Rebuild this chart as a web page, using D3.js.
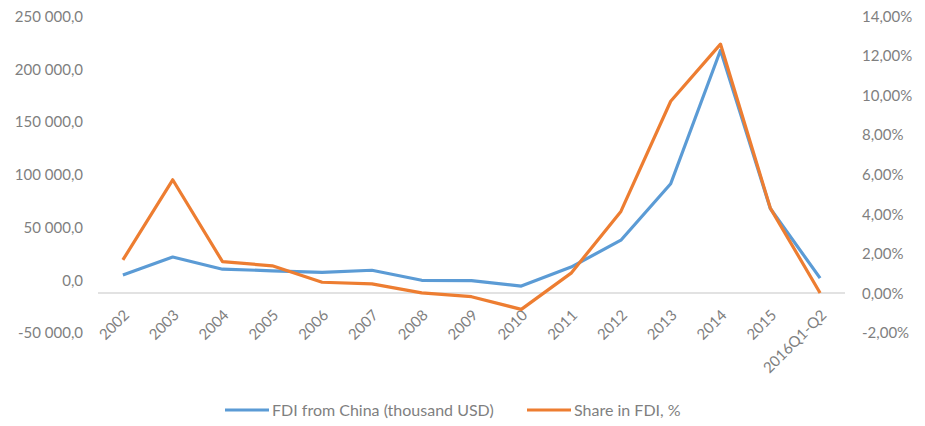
<!DOCTYPE html>
<html>
<head>
<meta charset="utf-8">
<script src="https://cdn.jsdelivr.net/npm/d3@7"></script>
<style>
  html, body { margin: 0; padding: 0; background: #fff; }
  svg { display: block; }
  text { font-family: Lato, "Open Sans", sans-serif; fill: #7f7f7f; }
</style>
</head>
<body>
<svg id="chart" width="925" height="426"></svg>
<script>
const categories = ["2002","2003","2004","2005","2006","2007","2008","2009","2010","2011","2012","2013","2014","2015","2016Q1-Q2"];
const fdiFromChina = [4500, 21500, 10000, 8500, 7000, 9000, -500, -800, -6000, 12000, 37500, 91000, 217500, 67500, 1500];
const shareInFdi = [1.67, 5.72, 1.58, 1.37, 0.54, 0.46, 0.0, -0.19, -0.83, 1.0, 4.12, 9.69, 12.58, 4.29, 0.0];
const leftTicks = [-50000, 0, 50000, 100000, 150000, 200000, 250000];
const rightTicks = [-2, 0, 2, 4, 6, 8, 10, 12, 14];
const seriesNames = ["FDI from China (thousand USD)", "Share in FDI, %"];

const colors = ["#5b9bd5", "#ed7d31"];
const svg = d3.select("#chart");
const plotTop = 16, plotBottom = 332.5, plotLeft = 98, plotRight = 845;

const x = d3.scalePoint().domain(categories).range([plotLeft, plotRight]).padding(0.5);
const yL = d3.scaleLinear().domain([-50000, 250000]).range([plotBottom, plotTop]);
const yR = d3.scaleLinear().domain([-2, 14]).range([plotBottom, plotTop]);

const loc = d3.formatLocale({decimal: ",", thousands: " ", grouping: [3], currency: ["", ""], minus: "-"});
const fmtL = loc.format(",.1f");
const fmtR = v => loc.format(".2f")(v) + "%";

// horizontal axis line
svg.append("line")
  .attr("x1", plotLeft).attr("x2", plotRight)
  .attr("y1", yR(0)).attr("y2", yR(0))
  .attr("stroke", "#d9d9d9").attr("stroke-width", 1.5);

// left axis
const gL = svg.append("g").attr("transform", `translate(${plotLeft - 12},0)`)
  .call(d3.axisLeft(yL).tickValues(leftTicks).tickSize(0).tickPadding(3).tickFormat(fmtL));
gL.select(".domain").remove();
gL.selectAll("text").style("font-size", "15px").attr("fill", "#7f7f7f").attr("dy", "0.35em");

// right axis
const gR = svg.append("g").attr("transform", `translate(${plotRight + 14},0)`)
  .call(d3.axisRight(yR).tickValues(rightTicks).tickSize(0).tickPadding(3).tickFormat(fmtR));
gR.select(".domain").remove();
gR.selectAll("text").style("font-size", "15px").attr("fill", "#7f7f7f").attr("dy", "0.35em");

// x labels
const gX = svg.append("g").attr("transform", `translate(0,${plotBottom - 30})`)
  .call(d3.axisBottom(x).tickSize(0).tickPadding(0));
gX.select(".domain").remove();
gX.selectAll("text")
  .style("font-size", "15px").attr("fill", "#7f7f7f")
  .attr("text-anchor", "end")
  .attr("dy", "0.35em").attr("y", 0)
  .attr("transform", "translate(3,10) rotate(-45)");

// lines
const lineL = d3.line().x((d, i) => x(categories[i])).y(d => yL(d));
const lineR = d3.line().x((d, i) => x(categories[i])).y(d => yR(d));
svg.append("path").datum(fdiFromChina).attr("d", lineL)
  .attr("fill", "none").attr("stroke", colors[0]).attr("stroke-width", 3.2).attr("stroke-linejoin", "round");
svg.append("path").datum(shareInFdi).attr("d", lineR)
  .attr("fill", "none").attr("stroke", colors[1]).attr("stroke-width", 3.2).attr("stroke-linejoin", "round");

// legend
const legendX = [225, 527];
const legY = 410;
seriesNames.forEach((name, i) => {
  svg.append("line").attr("x1", legendX[i]).attr("x2", legendX[i] + 44)
    .attr("y1", legY).attr("y2", legY).attr("stroke", colors[i]).attr("stroke-width", 3);
  svg.append("text").attr("x", legendX[i] + 47).attr("y", legY).attr("dy", "0.35em")
    .style("font-size", "16px").text(name);
});
</script>
</body>
</html>
